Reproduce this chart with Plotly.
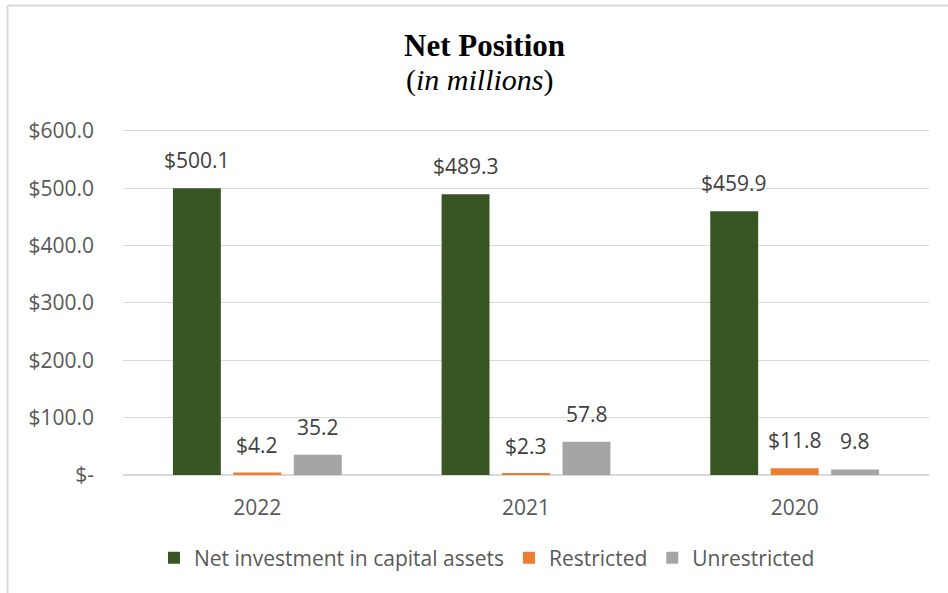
import plotly.graph_objects as go

years = ["2022", "2021", "2020"]
net_investment = [500.1, 489.3, 459.9]
restricted = [4.2, 2.3, 11.8]
unrestricted = [35.2, 57.8, 9.8]

net_labels = ["$500.1", "$489.3", "$459.9"]
restricted_labels = ["$4.2", "$2.3", "$11.8"]
unrestricted_labels = ["35.2", "57.8", "9.8"]

y_tickvals = [0, 100, 200, 300, 400, 500, 600]
y_ticktext = ["$-", "$100.0", "$200.0", "$300.0", "$400.0", "$500.0", "$600.0"]

FONT = "'Open Sans', sans-serif"
TXT = "#595959"
FS = 21

series = [
    ("Net investment in capital assets", net_investment, net_labels, "#375623", -60.5),
    ("Restricted", restricted, restricted_labels, "#ED7D31", 0),
    ("Unrestricted", unrestricted, unrestricted_labels, "#A5A5A5", 60.5),
]

L, R, T, B = 123, 19, 128, 118
W, H = 948, 593
pw, ph = W - L - R, H - T - B

def px_x(p):
    return (p - L) / pw

def px_y(p):
    return (H - B - p) / ph

fig = go.Figure()
annotations = []
for name, vals, labels, color, shift in series:
    fig.add_trace(go.Bar(name=name, x=years, y=vals, marker=dict(color=color, line=dict(width=0))))
    for i, (v, lab) in enumerate(zip(vals, labels)):
        annotations.append(dict(x=i, y=v, xref="x", yref="y", text=lab, showarrow=False,
                                xshift=shift, yshift=28, yanchor="middle",
                                font=dict(family=FONT, size=FS, color="#404040")))

annotations.append(dict(x=px_x(484), y=px_y(45), xref="paper", yref="paper", text="<b>Net Position</b>",
                        xanchor="center", yanchor="middle", showarrow=False,
                        font=dict(family="'Liberation Serif', serif", size=31, color="black")))
annotations.append(dict(x=px_x(480), y=px_y(80), xref="paper", yref="paper", text="(<i>in millions</i>)",
                        xanchor="center", yanchor="middle", showarrow=False,
                        font=dict(family="'Liberation Serif', serif", size=30, color="black")))

shapes = [
    dict(type="line", xref="paper", yref="paper", x0=px_x(7.5), x1=px_x(7.5), y0=px_y(5.5), y1=px_y(593),
         line=dict(color="#d9d9d9", width=2)),
    dict(type="line", xref="paper", yref="paper", x0=px_x(7.5), x1=px_x(948), y0=px_y(5.5), y1=px_y(5.5),
         line=dict(color="#d9d9d9", width=2)),
]

fig.update_layout(
    width=W, height=H,
    margin=dict(l=L, r=R, t=T, b=B, autoexpand=False),
    paper_bgcolor="white", plot_bgcolor="white",
    barmode="group", bargap=0.325, bargroupgap=0.207,
    annotations=annotations, shapes=shapes,
    font=dict(family=FONT, size=FS, color=TXT),
    showlegend=True,
    legend=dict(orientation="h", x=px_x(487), xanchor="center", y=px_y(558), yanchor="middle",
                font=dict(family=FONT, size=FS, color=TXT), itemwidth=30, traceorder="normal"),
    xaxis=dict(type="category", range=[-0.5, 2.5], showgrid=False, showline=True, linecolor="#d9d9d9",
               linewidth=1, ticks="", tickfont=dict(family=FONT, size=FS, color=TXT), ticklabelstandoff=14),
    yaxis=dict(range=[0, 605], tickvals=y_tickvals, ticktext=y_ticktext, showgrid=True,
               gridcolor="#d9d9d9", gridwidth=1, zeroline=True, zerolinecolor="#d9d9d9",
               showline=False, ticks="", tickfont=dict(family=FONT, size=FS, color=TXT),
               ticklabelstandoff=28),
)

fig.write_html("out.html", config={"displayModeBar": False},
               post_script="document.body.style.margin='0';")
